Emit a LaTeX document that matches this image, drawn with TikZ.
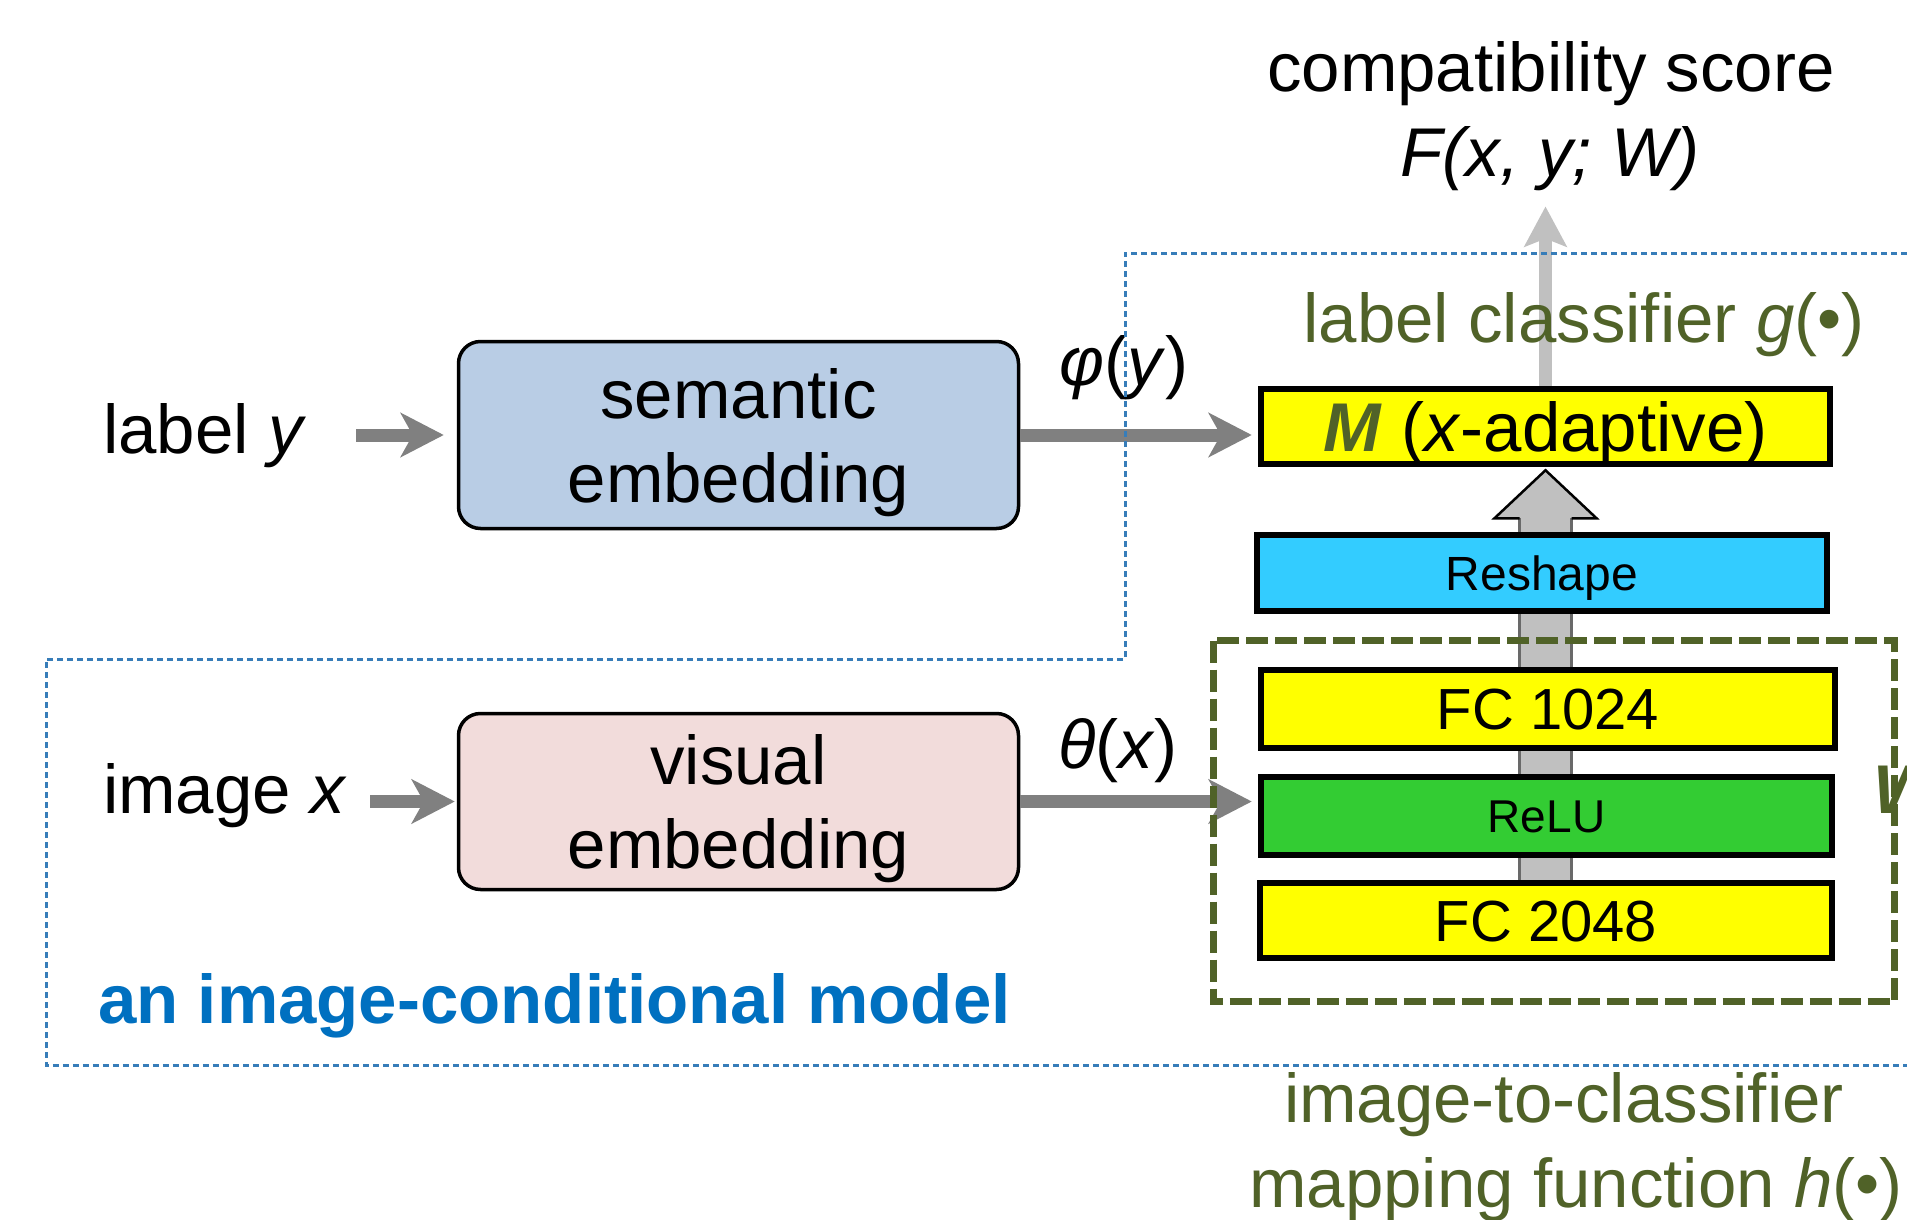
\documentclass[tikz,border=0pt]{standalone}
\usepackage{fontspec}
\setmainfont{Liberation Sans}
\usetikzlibrary{arrows.meta,calc}
\definecolor{olivetxt}{RGB}{80,98,40}
\definecolor{dotblue}{RGB}{55,125,185}
\definecolor{modelblue}{RGB}{0,112,192}
\definecolor{semfill}{RGB}{185,205,229}
\definecolor{visfill}{RGB}{242,220,219}
\definecolor{ylw}{RGB}{255,255,0}
\definecolor{grn}{RGB}{51,204,51}
\definecolor{cyn}{RGB}{51,204,255}
\definecolor{arrgray}{RGB}{128,128,128}
\definecolor{lightarr}{RGB}{192,192,192}
\definecolor{shaftedge}{RGB}{105,105,105}
\newcommand{\bigfnt}{\fontsize{69}{84}\selectfont}
\pgfdeclarelayer{bg}
\pgfsetlayers{bg,main}
\begin{document}
\begin{tikzpicture}[x=1pt,y=-1pt,
  txt/.style={inner sep=0pt, font=\bigfnt},
  embbox/.style={draw=black, line width=3.5pt, rounded corners=22pt, minimum width=560pt, align=center, inner sep=0pt, font=\bigfnt, text height=134pt, text depth=0pt},
  layerbox/.style={draw=black, line width=6.5pt, inner sep=0pt, minimum width=571pt, minimum height=77pt},
  garrow/.style={draw=arrgray, line width=13pt, -{Stealth[length=43pt,width=44pt,inset=12pt]}},
  larrow/.style={draw=lightarr, line width=13pt, -{Stealth[length=40pt,width=42pt,inset=8pt]}},
  dotline/.style={draw=dotblue, line width=3pt, dash pattern=on 6pt off 4pt},
  olivedash/.style={draw=olivetxt, line width=6.5pt, dash pattern=on 22pt off 7pt}
]
\clip (0,0) rectangle (1907,1220);

% ---- layer boxes ----
\node[layerbox, fill=ylw, minimum width=569pt, minimum height=75pt, font=\bigfnt, text height=49pt, text depth=0pt] (M) at (1545.5,426.5) {\textcolor{olivetxt}{\textbf{\textit{M}}} (\textit{x}-adaptive)};
\node[layerbox, fill=cyn, minimum width=570pt, minimum height=76pt, font=\fontsize{48}{56}\selectfont, text height=34.4pt, text depth=0pt] (resh) at (1542,573) {Reshape};
\node[layerbox, fill=ylw, minimum width=574pt, minimum height=78pt, font=\fontsize{58}{66}\selectfont, text height=41.5pt, text depth=0pt] (fc1) at (1548,709) {FC 1024};
\node[layerbox, fill=grn, minimum width=571pt, minimum height=78pt, font=\fontsize{46}{54}\selectfont, text height=33pt, text depth=0pt] (relu) at (1546.5,816) {ReLU};
\node[layerbox, fill=ylw, minimum width=572pt, minimum height=75pt, font=\fontsize{58}{66}\selectfont, text height=41.5pt, text depth=0pt] (fc2) at (1546,920.5) {FC 2048};

% ---- embedding boxes ----
\node[embbox, fill=semfill, minimum width=560pt, minimum height=187pt] (sem) at (738.5,435) {semantic\\embedding};
\node[embbox, fill=visfill, minimum width=560pt, minimum height=176pt] (vis) at (738.5,801.5) {visual\\embedding};

% ---- hollow block arrow from FC 2048 up to M (behind the layer boxes) ----
\coordinate (tipH) at ($(M.south)+(0,3)$);
\coordinate (hb) at ($(tipH)+(0,48)$);
\coordinate (hbR) at ($(hb)+(26,0)$);
\coordinate (hbL) at ($(hb)+(-26,0)$);
\coordinate (hbRR) at ($(hb)+(51,0)$);
\coordinate (hbLL) at ($(hb)+(-51,0)$);
\begin{pgfonlayer}{bg}
\fill[white] (0,0) rectangle (1907,1220);
\fill[lightarr] (tipH) -- (hbRR) -- (hbR) -- (hbR |- fc2.north) -- (hbL |- fc2.north) -- (hbL) -- (hbLL) -- cycle;
\draw[shaftedge, line width=3.5pt] (hbR) -- (hbR |- fc2.north);
\draw[shaftedge, line width=3.5pt] (hbL) -- (hbL |- fc2.north);
\draw[black, line width=2.5pt, line join=miter] (hbR) -- (hbRR) -- (tipH) -- (hbLL) -- (hbL);
\end{pgfonlayer}

% ---- input labels ----
\node[txt, anchor=base west] (laby) at (103,453) {label \textit{y}};
\node[txt, anchor=base west] (imgx) at (103,813) {image \textit{x}};

% ---- grey arrows ----
\coordinate (labyA) at ([xshift=50pt]laby.east);
\coordinate (imgxA) at ([xshift=23pt]imgx.east);
\draw[garrow] (labyA |- sem.west) -- ([xshift=-13pt]sem.west);
\draw[garrow] (imgxA |- vis.west) -- ([xshift=-2pt]vis.west);
\draw[garrow, shorten >=6pt] (sem.east) -- (sem.east -| M.west);
\draw[garrow, shorten >=6pt] (vis.east) -- (vis.east -| relu.west);

% ---- output ----
\node[txt, anchor=base] (comp) at (1551,92) {compatibility score};
\node[txt, anchor=base] (F) at (1550,177) {\itshape F(x, y; W)};
\draw[larrow, shorten >=15pt] (M.north) -- (F.south -| M.north);

% ---- labels ----
\node[txt, anchor=base, text=olivetxt] (gcls) at (1584,342) {label classifier \textit{g}(•)};
\node[txt, anchor=base] (phi) at (1124,385) {\textit{φ}(\textit{y})};
\node[txt, anchor=base] (theta) at (1118,768) {\textit{θ}(\textit{x})};
\node[txt, anchor=base west, text=modelblue, font=\bigfnt\bfseries] (model) at (98,1023) {an image-conditional model};
\node[txt, anchor=base, text=olivetxt] (i2c) at (1564,1122) {image-to-classifier};
\node[txt, anchor=base, text=olivetxt] (mapf) at (1576,1207) {mapping function \textit{h}(•)};
\node[txt, anchor=base west, text=olivetxt, font=\bigfnt\bfseries\itshape] (W) at (1873,813) {W};

% ---- group outlines ----
\draw[olivedash] (1213.5,640.5) rectangle (1894.5,1001.5);
\draw[dotline] (1907,253) -- (1125,253) -- (1125,659) -- (46,659) -- (46,1065) -- (1907,1065);
\end{tikzpicture}
\end{document}
